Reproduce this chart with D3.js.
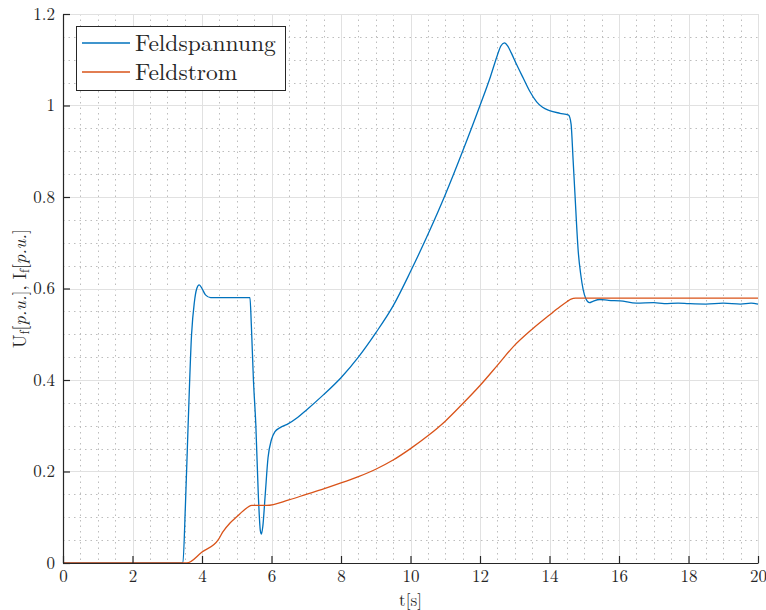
<!DOCTYPE html>
<html>
<head>
<meta charset="utf-8">
<script src="https://cdn.jsdelivr.net/npm/d3@7"></script>
<style>
  html, body { margin: 0; padding: 0; background: #fff; }
  svg { display: block; }
</style>
</head>
<body>
<svg id="chart" width="766" height="610"></svg>
<script>
// Field voltage (Feldspannung) over time, [t in s, value in p.u.]
const voltageT = [0, 3.45, 3.52, 3.6, 3.7, 3.78, 3.85, 3.92, 4.0, 4.1, 4.25, 5.38, 5.42, 5.48, 5.55, 5.62, 5.68, 5.71, 5.75, 5.82, 5.9, 6.0, 6.1, 6.25, 6.45, 6.75, 7.0, 7.5, 8.0, 8.5, 9.0, 9.5, 10.0, 10.5, 11.0, 11.5, 12.0, 12.3, 12.5, 12.6, 12.7, 12.8, 12.9, 13.05, 13.25, 13.44, 13.63, 13.8, 14.0, 14.3, 14.55, 14.62, 14.68, 14.73, 14.83, 14.9, 14.97, 15.05, 15.15, 15.25, 15.45, 15.7, 16.03, 16.5, 17.0, 17.3, 17.7, 18.0, 18.5, 19.0, 19.5, 19.8, 20.0];
const voltageV = [0, 0, 0.12, 0.30, 0.50, 0.57, 0.600, 0.608, 0.600, 0.586, 0.580, 0.580, 0.52, 0.40, 0.30, 0.15, 0.07, 0.063, 0.08, 0.15, 0.23, 0.27, 0.287, 0.296, 0.303, 0.318, 0.334, 0.368, 0.405, 0.450, 0.503, 0.562, 0.637, 0.718, 0.805, 0.900, 1.0, 1.063, 1.110, 1.130, 1.137, 1.130, 1.115, 1.09, 1.059, 1.03, 1.008, 0.996, 0.989, 0.983, 0.979, 0.96, 0.88, 0.81, 0.678, 0.63, 0.597, 0.577, 0.569, 0.572, 0.576, 0.574, 0.573, 0.568, 0.569, 0.567, 0.568, 0.567, 0.566, 0.568, 0.566, 0.568, 0.566];

// Field current (Feldstrom) over time
const currentT = [0, 3.5, 3.56, 4.0, 4.47, 4.6, 4.8, 5.0, 5.19, 5.43, 5.6, 5.86, 6.5, 7.0, 7.5, 8.0, 8.5, 9.0, 9.5, 10.0, 10.5, 11.0, 11.5, 12.0, 12.5, 12.96, 13.5, 14.0, 14.3, 14.5, 14.62, 14.75, 20.0];
const currentV = [0, 0, 0, 0.024, 0.051, 0.068, 0.087, 0.101, 0.114, 0.126, 0.126, 0.126, 0.138, 0.150, 0.162, 0.175, 0.189, 0.205, 0.225, 0.250, 0.278, 0.310, 0.348, 0.388, 0.432, 0.473, 0.511, 0.542, 0.560, 0.571, 0.577, 0.579, 0.579];

const seriesNames = ["Feldspannung", "Feldstrom"];
const seriesColors = ["#0072BD", "#D95319"];

const xTicks = [0, 2, 4, 6, 8, 10, 12, 14, 16, 18, 20];
const yTicks = [0, 0.2, 0.4, 0.6, 0.8, 1, 1.2];
const xMinor = d3.range(0, 20.001, 0.5);
const yMinor = d3.range(0, 1.2001, 0.05);

const FONT = '"Latin Modern Roman", "Liberation Serif", "Times New Roman"';
const TEXT_COLOR = "#262626";

const svg = d3.select("#chart");
const plotLeft = 63, plotRight = 758, plotTop = 14, plotBottom = 563;

const x = d3.scaleLinear().domain([0, 20]).range([plotLeft, plotRight]);
const y = d3.scaleLinear().domain([0, 1.2]).range([plotBottom, plotTop]);

// minor grid (dotted)
const g = svg.append("g");
g.selectAll(".mx").data(xMinor.filter(v => Math.abs(v / 2 - Math.round(v / 2)) > 1e-6))
  .enter().append("line")
  .attr("x1", d => Math.round(x(d)) + 0.5).attr("x2", d => Math.round(x(d)) + 0.5)
  .attr("y1", plotTop).attr("y2", plotBottom)
  .attr("stroke", "#bdbdbd").attr("stroke-width", 1).attr("stroke-dasharray", "1.5,4");
g.selectAll(".my").data(yMinor.filter(v => Math.abs(v / 0.2 - Math.round(v / 0.2)) > 1e-6))
  .enter().append("line")
  .attr("y1", d => Math.round(y(d)) + 0.5).attr("y2", d => Math.round(y(d)) + 0.5)
  .attr("x1", plotLeft).attr("x2", plotRight)
  .attr("stroke", "#bdbdbd").attr("stroke-width", 1).attr("stroke-dasharray", "1.5,4");

// major grid
g.selectAll(".gx").data(xTicks).enter().append("line")
  .attr("x1", d => Math.round(x(d)) + 0.5).attr("x2", d => Math.round(x(d)) + 0.5)
  .attr("y1", plotTop).attr("y2", plotBottom)
  .attr("stroke", "#e1e1e1").attr("stroke-width", 1);
g.selectAll(".gy").data(yTicks).enter().append("line")
  .attr("y1", d => Math.round(y(d)) + 0.5).attr("y2", d => Math.round(y(d)) + 0.5)
  .attr("x1", plotLeft).attr("x2", plotRight)
  .attr("stroke", "#e1e1e1").attr("stroke-width", 1);

// data lines
const line = d3.line().x(d => x(d[0])).y(d => y(d[1])).curve(d3.curveMonotoneX);
const voltage = voltageT.map((t, i) => [t, voltageV[i]]);
const current = currentT.map((t, i) => [t, currentV[i]]);
svg.append("path").datum(voltage).attr("d", line)
  .attr("fill", "none").attr("stroke", seriesColors[0]).attr("stroke-width", 1.3);
svg.append("path").datum(current).attr("d", line)
  .attr("fill", "none").attr("stroke", seriesColors[1]).attr("stroke-width", 1.3);

// axes (ticks point inward)
const xAxis = d3.axisBottom(x).tickValues(xTicks).tickSizeInner(-7).tickSizeOuter(0).tickPadding(12)
  .tickFormat(d3.format("d"));
const yAxis = d3.axisLeft(y).tickValues(yTicks).tickSizeInner(-7).tickSizeOuter(0).tickPadding(8)
  .tickFormat(d => String(d));
const gx = svg.append("g").attr("transform", `translate(0,${plotBottom})`).call(xAxis);
const gy = svg.append("g").attr("transform", `translate(${plotLeft},0)`).call(yAxis);
[gx, gy].forEach(a => {
  a.attr("font-family", null).attr("font-size", null);
  a.select(".domain").attr("stroke", TEXT_COLOR).attr("stroke-width", 1.2);
  a.selectAll(".tick line").attr("stroke", TEXT_COLOR).attr("stroke-width", 1.2);
  a.selectAll(".tick text").style("font-family", FONT).style("font-size", "17px").attr("fill", TEXT_COLOR);
});
gx.selectAll(".tick text").attr("dy", "0.4em");

// axis labels
svg.append("text").attr("x", (plotLeft + plotRight) / 2).attr("y", 606)
  .attr("text-anchor", "middle").style("font-family", FONT).style("font-size", "17px")
  .attr("fill", TEXT_COLOR).text("t[s]");

const yl = svg.append("text")
  .attr("transform", `translate(26,${(plotTop + plotBottom) / 2}) rotate(-90)`)
  .attr("text-anchor", "middle").style("font-family", FONT).style("font-size", "18px")
  .attr("fill", TEXT_COLOR);
yl.append("tspan").text("U");
yl.append("tspan").style("font-size", "13px").attr("dy", 3).text("f");
yl.append("tspan").attr("dy", -3).text("[");
yl.append("tspan").style("font-style", "italic").text("p.u.");
yl.append("tspan").text("], I");
yl.append("tspan").style("font-size", "13px").attr("dy", 3).text("f");
yl.append("tspan").attr("dy", -3).text("[");
yl.append("tspan").style("font-style", "italic").text("p.u.");
yl.append("tspan").text("]");

// legend
const lg = svg.append("g");
lg.append("rect").attr("x", 76.5).attr("y", 26.5).attr("width", 209).attr("height", 64)
  .attr("fill", "#fff").attr("stroke", TEXT_COLOR).attr("stroke-width", 1);
seriesNames.forEach((name, i) => {
  const cy = 43 + i * 29;
  lg.append("line").attr("x1", 82).attr("x2", 130).attr("y1", cy).attr("y2", cy)
    .attr("stroke", seriesColors[i]).attr("stroke-width", 1.3);
  lg.append("text").attr("x", 135).attr("y", cy).attr("dy", "0.33em")
    .style("font-family", FONT).style("font-size", "23.5px").attr("fill", TEXT_COLOR).text(name);
});
</script>
</body>
</html>
